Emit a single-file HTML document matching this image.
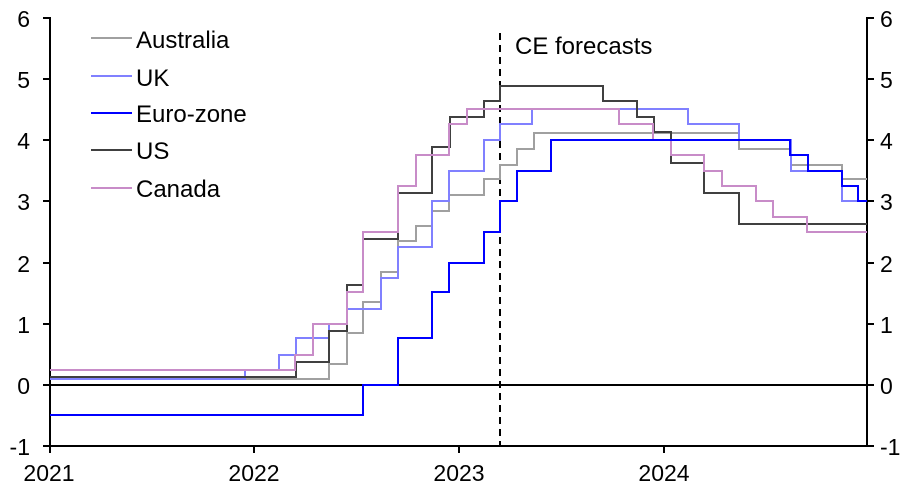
<!DOCTYPE html>
<html><head><meta charset="utf-8"><style>
html,body{margin:0;padding:0;background:#fff}
svg{display:block;font-family:"Liberation Sans",Arial,sans-serif}
</style></head><body>
<svg width="917" height="489" viewBox="0 0 917 489" xmlns="http://www.w3.org/2000/svg">
<g font-size="23" fill="#000">
<text x="30" y="27" text-anchor="end">6</text>
<text x="30" y="88" text-anchor="end">5</text>
<text x="30" y="149" text-anchor="end">4</text>
<text x="30" y="210" text-anchor="end">3</text>
<text x="30" y="272" text-anchor="end">2</text>
<text x="30" y="333" text-anchor="end">1</text>
<text x="30" y="394" text-anchor="end">0</text>
<text x="30" y="455" text-anchor="end">-1</text>
<text x="880" y="27">6</text>
<text x="880" y="88">5</text>
<text x="880" y="149">4</text>
<text x="880" y="210">3</text>
<text x="880" y="272">2</text>
<text x="880" y="333">1</text>
<text x="880" y="394">0</text>
<text x="880" y="455">-1</text>
<text x="49" y="481" text-anchor="middle">2021</text>
<text x="254" y="481" text-anchor="middle">2022</text>
<text x="459" y="481" text-anchor="middle">2023</text>
<text x="664" y="481" text-anchor="middle">2024</text>
<text x="515" y="54" font-size="24">CE forecasts</text>
</g>
<g stroke="#000" stroke-width="2" fill="none">
<line x1="50" y1="17" x2="50" y2="447"/>
<line x1="867" y1="17" x2="867" y2="447"/>
<line x1="49" y1="446" x2="868" y2="446"/>
<line x1="50" y1="385" x2="867" y2="385"/>
<path d="M43,18H50M43,79H50M43,140H50M43,201H50M43,263H50M43,324H50M43,385H50M43,446H50"/>
<path d="M867,18H874M867,79H874M867,140H874M867,201H874M867,263H874M867,324H874M867,385H874M867,446H874"/>
<path d="M50,446V453M254,446V453M459,446V453M664,446V453"/>
<line x1="500" y1="33" x2="500" y2="446" stroke-dasharray="7,5"/>
</g>
<g fill="none" stroke-width="2">
<path stroke="#a0a0a0" d="M50,379 H329 V364 H347 V333 H363 V302 H381 V272 H398 V241 H416 V226 H432 V211 H449 V195 H484 V179 H500 V165 H517 V149 H534 V133 H739 V149 H791 V165 H842 V179 H867"/>
<path stroke="#8080ff" d="M50,379 H245 V370 H279 V355 H296 V338 H329 V324 H347 V309 H381 V278 H398 V247 H432 V201 H449 V171 H484 V140 H500 V124 H532 V109 H688 V124 H739 V140 H791 V171 H842 V201 H867"/>
<path stroke="#404040" d="M50,377 H296 V362 H329 V331 H347 V285 H363 V239 H398 V193 H432 V147 H450 V117 H484 V101 H500 V86 H603 V101 H637 V117 H654 V132 H671 V163 H704 V193 H739 V224 H867"/>
<path stroke="#c88cc8" d="M50,370 H295 V355 H313 V324 H347 V292 H363 V232 H398 V186 H416 V155 H449 V124 H467 V109 H619 V124 H653 V140 H671 V155 H704 V171 H722 V186 H756 V201 H773 V217 H807 V232 H867"/>
<path stroke="#0000ff" d="M50,415 H363 V385 H398 V338 H432 V292 H449 V263 H484 V232 H500 V201 H517 V171 H551 V140 H790 V155 H808 V171 H842 V186 H858 V201 H867"/>
<line x1="91" y1="38" x2="132" y2="38" stroke="#a0a0a0"/>
<line x1="91" y1="76" x2="132" y2="76" stroke="#8080ff"/>
<line x1="91" y1="113" x2="132" y2="113" stroke="#0000ff"/>
<line x1="91" y1="150" x2="132" y2="150" stroke="#404040"/>
<line x1="91" y1="188" x2="132" y2="188" stroke="#c88cc8"/>
</g>
<g font-size="24" fill="#000">
<text x="136" y="48">Australia</text>
<text x="136" y="86">UK</text>
<text x="136" y="122">Euro-zone</text>
<text x="136" y="159">US</text>
<text x="136" y="197">Canada</text>
</g>
</svg>
</body></html>
